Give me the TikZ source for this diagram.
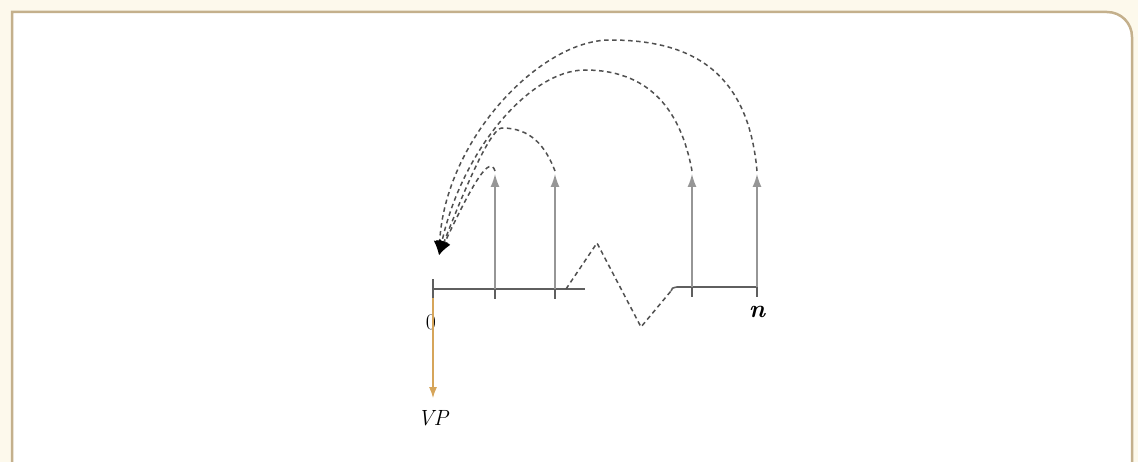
\documentclass[tikz,border=0pt]{standalone}
\usetikzlibrary{arrows.meta}
\definecolor{frametan}{RGB}{196,176,140}
\definecolor{cream}{RGB}{253,249,236}
\definecolor{axisgray}{RGB}{95,95,95}
\definecolor{arrgray}{RGB}{150,150,150}
\definecolor{dashgray}{RGB}{80,80,80}
\definecolor{vporange}{RGB}{214,165,90}
\tikzset{
  axis/.style={draw=axisgray,line width=1.6pt},
  tickmark/.style={draw=axisgray,line width=1.4pt},
  uparrow/.style={draw=arrgray,line width=1.4pt,-{Latex[length=13pt,width=9pt]}},
  jump/.style={draw=dashgray,line width=1.5pt,dash pattern=on 4.5pt off 3.5pt,-{Latex[length=14pt,width=12pt,color=black]}},
  zig/.style={draw=dashgray,line width=1.5pt,dash pattern=on 4.5pt off 3.5pt},
  vparrow/.style={draw=vporange,line width=1.3pt,-{Latex[length=11pt,width=8pt]}},
  lab/.style={inner sep=0pt,font=\fontsize{22}{26}\selectfont}
}
\begin{document}
\begin{tikzpicture}[x=1pt,y=-1pt]
\useasboundingbox (0,0) rectangle (1138,462);
\fill[cream] (0,0) rectangle (1138,462);
\fill[white,draw=frametan,line width=2.5pt] (12,490) -- (12,12) -- (1107,12)
  .. controls (1121,12) and (1132,23) .. (1132,37) -- (1132,490);
% axis coordinates
\coordinate (o) at (433,289);
\coordinate (a1) at (495,289);
\coordinate (a2) at (555,289);
\coordinate (aend) at (585,289);
\coordinate (zs) at (566,289);
\coordinate (zp) at (597,243);
\coordinate (zv) at (641,327);
\coordinate (ze) at (671,291);
\coordinate (bstart) at (677,287);
\coordinate (b1) at (692,287);
\coordinate (b2) at (757,287);
% axis
\draw[axis] (o) -- (aend);
\draw[axis] (ze) .. controls (672,288) .. (bstart) -- (b2);
\foreach \p in {o,a1,a2,b1,b2}{
  \draw[tickmark] ([yshift=-10pt]\p) -- ([yshift=10pt]\p);
}
\draw[zig] (zs) -- (zp) -- (zv) -- (ze);
% vertical arrows
\coordinate (t1) at (495,174);
\coordinate (t2) at (555,174);
\coordinate (t3) at (692,174);
\coordinate (t4) at (757,174);
\draw[uparrow] (a1) -- (t1);
\draw[uparrow] (a2) -- (t2);
\draw[uparrow] (b1) -- (t3);
\draw[uparrow] (b2) -- (t4);
% dashed jumps
\coordinate (tip) at (439,255);
\draw[jump] ([yshift=3pt]t4) .. controls (748,70) and (690,40) .. (610,40)
  .. controls (540,40) and (445,140) .. (tip);
\draw[jump] ([yshift=3pt]t3) .. controls (680,105) and (645,70) .. (585,70)
  .. controls (530,70) and (462,150) .. (tip);
\draw[jump] ([yshift=3pt]t2) .. controls (545,145) and (530,128) .. (502,128)
  .. controls (492,128) and (470,175) .. (tip);
\draw[jump] ([yshift=3pt]t1) .. controls (490,155) and (474,180) .. (tip);
% labels
\node[lab] (zero) at (431,322) {0};
\node[lab,font=\fontsize{25}{28}\selectfont] (n) at (757,312) {\bfseries\itshape n};
\node[lab] (vp) at (433,418) {\itshape VP};
\draw[vparrow] ([yshift=-9pt]o) -- ([yshift=12pt]vp.north);
\end{tikzpicture}
\end{document}
